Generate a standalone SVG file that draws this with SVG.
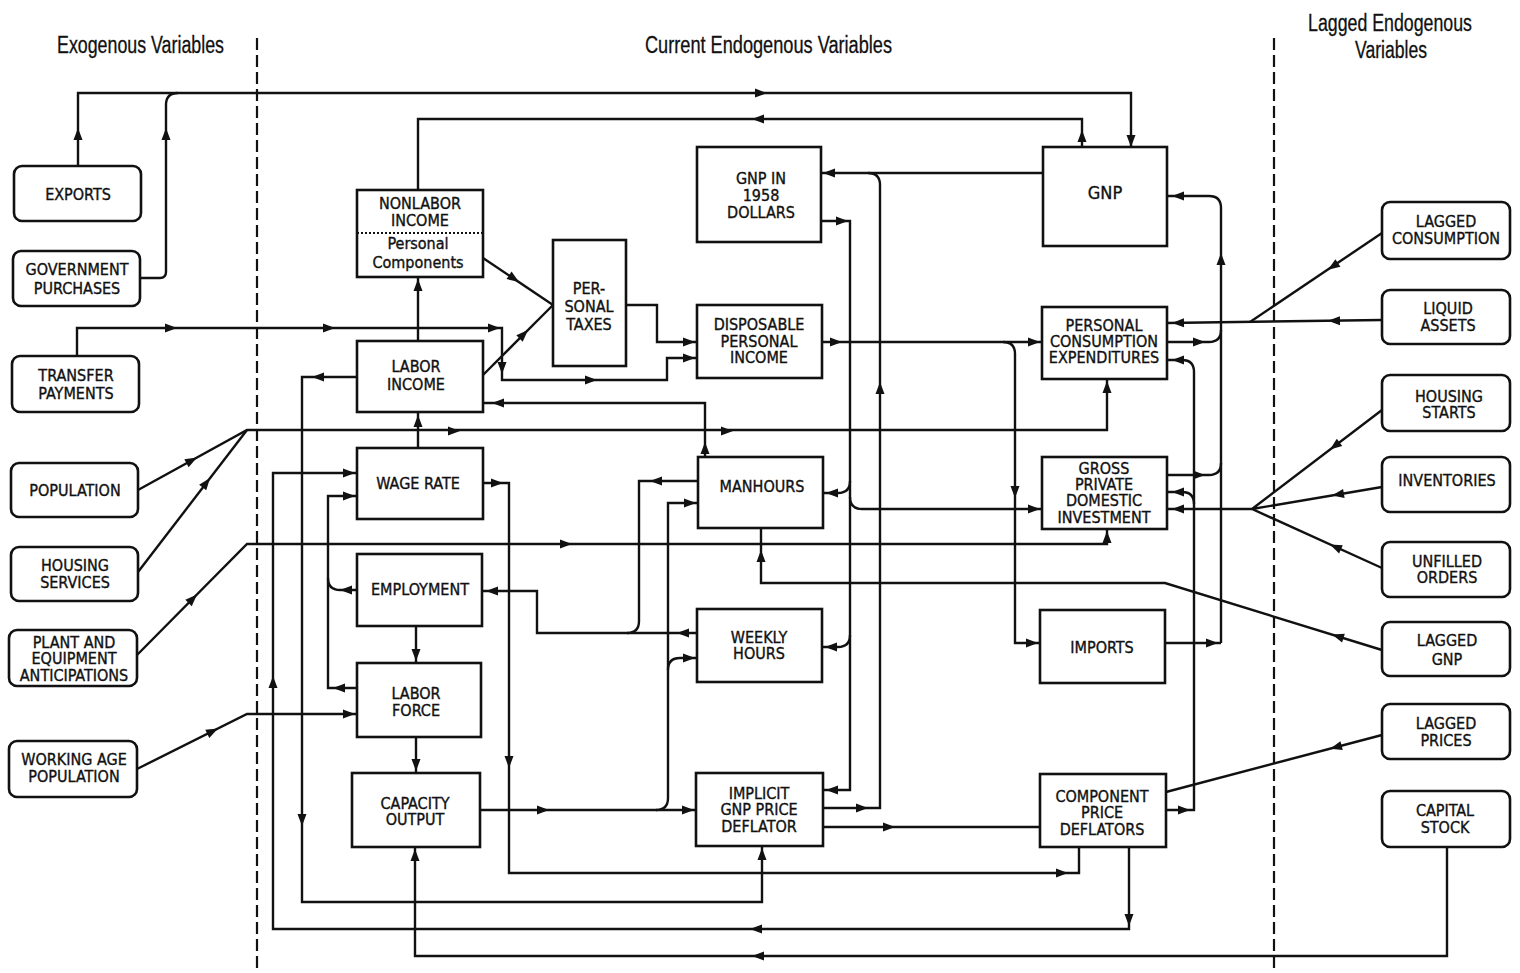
<svg xmlns="http://www.w3.org/2000/svg" xmlns:xlink="http://www.w3.org/1999/xlink" width="1520" height="973" viewBox="0 0 1520 973">
<style>
.bg{fill:#ffffff}
.box{fill:#ffffff;stroke:#111;stroke-width:2.6}
.rbox{fill:#ffffff;stroke:#111;stroke-width:2.6}
.c{fill:none;stroke:#111;stroke-width:2.4}
.div{fill:none;stroke:#111;stroke-width:2.2;stroke-dasharray:12 5}
.t{font-family:"Liberation Sans Narrow","Arial Narrow","DejaVu Sans Condensed","Liberation Sans",sans-serif;font-size:16px;fill:#111;stroke:#111;stroke-width:0.35;text-anchor:middle}
.h{font-family:"Liberation Sans Narrow","Arial Narrow","Liberation Sans",sans-serif;font-size:23px;fill:#111;stroke:#111;stroke-width:0.3}
.ah{fill:#111}
</style>
<defs>
<path id="ah" d="M0,0 L-12,-4.5 L-12,4.5 Z"/>
</defs>
<rect class="bg" x="0" y="0" width="1520" height="973"/>

<g id="headers">
<text class="h" x="57" y="53" textLength="167" lengthAdjust="spacingAndGlyphs">Exogenous Variables</text>
<text class="h" x="645" y="53" textLength="247" lengthAdjust="spacingAndGlyphs">Current Endogenous Variables</text>
<text class="h" x="1308" y="31" textLength="164" lengthAdjust="spacingAndGlyphs">Lagged Endogenous</text>
<text class="h" x="1355" y="58" textLength="72" lengthAdjust="spacingAndGlyphs">Variables</text>
</g>

<g id="dividers">
<path class="div" d="M257,38 V973"/>
<path class="div" d="M1274,38 V973"/>
</g>

<g id="connectors">
<path class="c" d="M78,166 V93 H1131 V147"/>
<path class="c" d="M141,278 H160 Q166,278 166,272 V105 Q166,93 178,93"/>
<path class="c" d="M1082,147 V119 H418 V190"/>
<path class="c" d="M1043,173 H821"/>
<path class="c" d="M823,808 H880 V185 Q880,173 868,173"/>
<path class="c" d="M821,221 H850 V790 H823"/>
<path class="c" d="M850,481 Q850,493 838,493 H823"/>
<path class="c" d="M850,497 Q850,509 862,509 H1042"/>
<path class="c" d="M850,635 Q850,647 838,647 H822"/>
<path class="c" d="M822,342 H1042"/>
<path class="c" d="M1003,342 Q1015,342 1015,354 V643 H1040"/>
<path class="c" d="M138,490 L247,430 H1107 V379"/>
<path class="c" d="M138,572 L247,430"/>
<path class="c" d="M137,655 L247,544 H1107 V529"/>
<path class="c" d="M137,769 L247,714 H357"/>
<path class="c" d="M77,356 V328 H502 V380 H667 V358 H697"/>
<path class="c" d="M626,305 H657 V342 H697"/>
<path class="c" d="M483,258 L553,305"/>
<path class="c" d="M483,375 L553,305"/>
<path class="c" d="M418,341 V277"/>
<path class="c" d="M357,377 H302 V902 H762 V846"/>
<path class="c" d="M1129,847 V929 H273 V473 H357"/>
<path class="c" d="M1447,847 V956 H415 V847"/>
<path class="c" d="M483,483 H509 V873 H1079 V847"/>
<path class="c" d="M705,457 V403 H483"/>
<path class="c" d="M697,633 H537 V591 H482"/>
<path class="c" d="M698,481 H639 V621 Q639,633 627,633"/>
<path class="c" d="M480,810 H696"/>
<path class="c" d="M656,810 Q668,810 668,798 V503 H698"/>
<path class="c" d="M668,670 Q668,658 680,658 H697"/>
<path class="c" d="M357,590 H340 Q328,590 328,578"/>
<path class="c" d="M357,688 H328 V496 H357"/>
<path class="c" d="M418,448 V413"/>
<path class="c" d="M416,626 V663"/>
<path class="c" d="M416,737 V773"/>
<path class="c" d="M823,827 H1040"/>
<path class="c" d="M1166,810 H1194 V372 Q1194,360 1182,360 H1167"/>
<path class="c" d="M1194,504 Q1194,492 1182,492 H1167"/>
<path class="c" d="M1221,643 V208 Q1221,196 1209,196 H1167"/>
<path class="c" d="M1167,342 H1209 Q1221,342 1221,330"/>
<path class="c" d="M1167,475 H1209 Q1221,475 1221,463"/>
<path class="c" d="M1165,643 H1221"/>
<path class="c" d="M1382,320 L1167,323"/>
<path class="c" d="M1382,233 L1250,322"/>
<path class="c" d="M1382,410 L1252,509 M1382,487 L1252,509 M1382,568 L1252,509 M1252,509 H1167"/>
<path class="c" d="M1382,650 L1165,583 H761 V528"/>
<path class="c" d="M1382,735 L1166,792"/>
<g class="ah">
<use xlink:href="#ah" transform="translate(78,128) rotate(-90)"/>
<use xlink:href="#ah" transform="translate(166,128) rotate(-90)"/>
<use xlink:href="#ah" transform="translate(767,93)"/>
<use xlink:href="#ah" transform="translate(1131,147) rotate(90)"/>
<use xlink:href="#ah" transform="translate(1082,130) rotate(-90)"/>
<use xlink:href="#ah" transform="translate(752,119) rotate(180)"/>
<use xlink:href="#ah" transform="translate(823,173) rotate(180)"/>
<use xlink:href="#ah" transform="translate(868,808)"/>
<use xlink:href="#ah" transform="translate(880,382) rotate(-90)"/>
<use xlink:href="#ah" transform="translate(848,221)"/>
<use xlink:href="#ah" transform="translate(826,493) rotate(180)"/>
<use xlink:href="#ah" transform="translate(1040,509)"/>
<use xlink:href="#ah" transform="translate(825,647) rotate(180)"/>
<use xlink:href="#ah" transform="translate(826,790) rotate(180)"/>
<use xlink:href="#ah" transform="translate(842,342)"/>
<use xlink:href="#ah" transform="translate(1040,342)"/>
<use xlink:href="#ah" transform="translate(1015,498) rotate(90)"/>
<use xlink:href="#ah" transform="translate(1038,643)"/>
<use xlink:href="#ah" transform="translate(197,457.5) rotate(-28.8)"/>
<use xlink:href="#ah" transform="translate(210,478) rotate(-52.5)"/>
<use xlink:href="#ah" transform="translate(460,431)"/>
<use xlink:href="#ah" transform="translate(733,431)"/>
<use xlink:href="#ah" transform="translate(1107,381) rotate(-90)"/>
<use xlink:href="#ah" transform="translate(197,594.5) rotate(-45.3)"/>
<use xlink:href="#ah" transform="translate(572,544)"/>
<use xlink:href="#ah" transform="translate(1107,531) rotate(-90)"/>
<use xlink:href="#ah" transform="translate(218,728.5) rotate(-26.6)"/>
<use xlink:href="#ah" transform="translate(355,714)"/>
<use xlink:href="#ah" transform="translate(177,328)"/>
<use xlink:href="#ah" transform="translate(335,328)"/>
<use xlink:href="#ah" transform="translate(500,328)"/>
<use xlink:href="#ah" transform="translate(502,374) rotate(90)"/>
<use xlink:href="#ah" transform="translate(597,380)"/>
<use xlink:href="#ah" transform="translate(695,358)"/>
<use xlink:href="#ah" transform="translate(695,342)"/>
<use xlink:href="#ah" transform="translate(519,282) rotate(33.9)"/>
<use xlink:href="#ah" transform="translate(528,330) rotate(-45)"/>
<use xlink:href="#ah" transform="translate(418,279) rotate(-90)"/>
<use xlink:href="#ah" transform="translate(312,377) rotate(180)"/>
<use xlink:href="#ah" transform="translate(302,826) rotate(90)"/>
<use xlink:href="#ah" transform="translate(762,848) rotate(-90)"/>
<use xlink:href="#ah" transform="translate(1129,926) rotate(90)"/>
<use xlink:href="#ah" transform="translate(750,929) rotate(180)"/>
<use xlink:href="#ah" transform="translate(273,676) rotate(-90)"/>
<use xlink:href="#ah" transform="translate(355,473)"/>
<use xlink:href="#ah" transform="translate(752,956) rotate(180)"/>
<use xlink:href="#ah" transform="translate(415,849) rotate(-90)"/>
<use xlink:href="#ah" transform="translate(503,483)"/>
<use xlink:href="#ah" transform="translate(509,768) rotate(90)"/>
<use xlink:href="#ah" transform="translate(1068,873)"/>
<use xlink:href="#ah" transform="translate(705,442) rotate(-90)"/>
<use xlink:href="#ah" transform="translate(492,403) rotate(180)"/>
<use xlink:href="#ah" transform="translate(677,633) rotate(180)"/>
<use xlink:href="#ah" transform="translate(486,591) rotate(180)"/>
<use xlink:href="#ah" transform="translate(650,481) rotate(180)"/>
<use xlink:href="#ah" transform="translate(549,810)"/>
<use xlink:href="#ah" transform="translate(694,810)"/>
<use xlink:href="#ah" transform="translate(695,658)"/>
<use xlink:href="#ah" transform="translate(696,503)"/>
<use xlink:href="#ah" transform="translate(340,590) rotate(180)"/>
<use xlink:href="#ah" transform="translate(333,688) rotate(180)"/>
<use xlink:href="#ah" transform="translate(355,496)"/>
<use xlink:href="#ah" transform="translate(418,415) rotate(-90)"/>
<use xlink:href="#ah" transform="translate(416,661) rotate(90)"/>
<use xlink:href="#ah" transform="translate(416,771) rotate(90)"/>
<use xlink:href="#ah" transform="translate(895,827)"/>
<use xlink:href="#ah" transform="translate(1190,810)"/>
<use xlink:href="#ah" transform="translate(1172,360) rotate(180)"/>
<use xlink:href="#ah" transform="translate(1172,492) rotate(180)"/>
<use xlink:href="#ah" transform="translate(1221,253) rotate(-90)"/>
<use xlink:href="#ah" transform="translate(1172,196) rotate(180)"/>
<use xlink:href="#ah" transform="translate(1205,342)"/>
<use xlink:href="#ah" transform="translate(1205,475)"/>
<use xlink:href="#ah" transform="translate(1218,643)"/>
<use xlink:href="#ah" transform="translate(1328,320.8) rotate(179.2)"/>
<use xlink:href="#ah" transform="translate(1172,323) rotate(179.2)"/>
<use xlink:href="#ah" transform="translate(1328,269.8) rotate(145.7)"/>
<use xlink:href="#ah" transform="translate(1330,449.6) rotate(142.7)"/>
<use xlink:href="#ah" transform="translate(1332,495.5) rotate(170.4)"/>
<use xlink:href="#ah" transform="translate(1330,544.4) rotate(-155.6)"/>
<use xlink:href="#ah" transform="translate(1172,509) rotate(180)"/>
<use xlink:href="#ah" transform="translate(1332,634.6) rotate(-162.8)"/>
<use xlink:href="#ah" transform="translate(761,550) rotate(-90)"/>
<use xlink:href="#ah" transform="translate(1330,748.7) rotate(165.2)"/>
</g>
</g>

<g id="exports"><rect class="rbox" x="14" y="166" width="127" height="55" rx="8"/><text class="t" x="78" y="200">EXPORTS</text></g>
<g id="government-purchases"><rect class="rbox" x="13" y="251" width="127" height="55" rx="8"/><text class="t" x="77" y="275">GOVERNMENT</text><text class="t" x="77" y="294">PURCHASES</text></g>
<g id="transfer-payments"><rect class="rbox" x="12" y="356" width="127" height="56" rx="8"/><text class="t" x="76" y="381">TRANSFER</text><text class="t" x="76" y="399">PAYMENTS</text></g>
<g id="population"><rect class="rbox" x="11" y="463" width="127" height="54" rx="8"/><text class="t" x="75" y="496">POPULATION</text></g>
<g id="housing-services"><rect class="rbox" x="11" y="547" width="127" height="54" rx="8"/><text class="t" x="75" y="571">HOUSING</text><text class="t" x="75" y="588">SERVICES</text></g>
<g id="plant-equipment"><rect class="rbox" x="9" y="630" width="128" height="56" rx="8"/><text class="t" x="74" y="648">PLANT AND</text><text class="t" x="74" y="664">EQUIPMENT</text><text class="t" x="74" y="681">ANTICIPATIONS</text></g>
<g id="working-age-population"><rect class="rbox" x="9" y="741" width="128" height="56" rx="8"/><text class="t" x="74" y="765">WORKING AGE</text><text class="t" x="74" y="782">POPULATION</text></g>

<g id="lagged-consumption"><rect class="rbox" x="1382" y="202" width="128" height="57" rx="8"/><text class="t" x="1446" y="227">LAGGED</text><text class="t" x="1446" y="244">CONSUMPTION</text></g>
<g id="liquid-assets"><rect class="rbox" x="1382" y="290" width="128" height="54" rx="8"/><text class="t" x="1448" y="314">LIQUID</text><text class="t" x="1448" y="331">ASSETS</text></g>
<g id="housing-starts"><rect class="rbox" x="1382" y="375" width="128" height="56" rx="8"/><text class="t" x="1449" y="402">HOUSING</text><text class="t" x="1449" y="418">STARTS</text></g>
<g id="inventories"><rect class="rbox" x="1382" y="457" width="128" height="55" rx="8"/><text class="t" x="1447" y="486">INVENTORIES</text></g>
<g id="unfilled-orders"><rect class="rbox" x="1382" y="542" width="128" height="55" rx="8"/><text class="t" x="1447" y="567">UNFILLED</text><text class="t" x="1447" y="583">ORDERS</text></g>
<g id="lagged-gnp"><rect class="rbox" x="1382" y="622" width="128" height="54" rx="8"/><text class="t" x="1447" y="646">LAGGED</text><text class="t" x="1447" y="665">GNP</text></g>
<g id="lagged-prices"><rect class="rbox" x="1382" y="704" width="128" height="55" rx="8"/><text class="t" x="1446" y="729">LAGGED</text><text class="t" x="1446" y="746">PRICES</text></g>
<g id="capital-stock"><rect class="rbox" x="1382" y="791" width="128" height="56" rx="8"/><text class="t" x="1445" y="816">CAPITAL</text><text class="t" x="1445" y="833">STOCK</text></g>

<g id="nonlabor-income"><rect class="box" x="357" y="190" width="126" height="87"/><path d="M357,233 H483" fill="none" stroke="#111" stroke-width="2.2" stroke-dasharray="2 2"/><text class="t" x="420" y="209">NONLABOR</text><text class="t" x="420" y="226">INCOME</text><text class="t" x="418" y="249">Personal</text><text class="t" x="418" y="268">Components</text></g>
<g id="personal-taxes"><rect class="box" x="553" y="240" width="73" height="126"/><text class="t" x="589" y="294">PER-</text><text class="t" x="589" y="312">SONAL</text><text class="t" x="589" y="330">TAXES</text></g>
<g id="labor-income"><rect class="box" x="357" y="341" width="126" height="71"/><text class="t" x="416" y="372">LABOR</text><text class="t" x="416" y="390">INCOME</text></g>
<g id="wage-rate"><rect class="box" x="357" y="448" width="126" height="71"/><text class="t" x="418" y="489">WAGE  RATE</text></g>
<g id="employment"><rect class="box" x="357" y="554" width="125" height="72"/><text class="t" x="420" y="595">EMPLOYMENT</text></g>
<g id="labor-force"><rect class="box" x="357" y="663" width="124" height="74"/><text class="t" x="416" y="699">LABOR</text><text class="t" x="416" y="716">FORCE</text></g>
<g id="capacity-output"><rect class="box" x="352" y="773" width="128" height="74"/><text class="t" x="415" y="809">CAPACITY</text><text class="t" x="415" y="825">OUTPUT</text></g>
<g id="gnp-1958"><rect class="box" x="697" y="147" width="124" height="95"/><text class="t" x="761" y="184">GNP  IN</text><text class="t" x="761" y="201">1958</text><text class="t" x="761" y="218">DOLLARS</text></g>
<g id="disposable-personal-income"><rect class="box" x="697" y="305" width="125" height="73"/><text class="t" x="759" y="330">DISPOSABLE</text><text class="t" x="759" y="347">PERSONAL</text><text class="t" x="759" y="363">INCOME</text></g>
<g id="manhours"><rect class="box" x="698" y="457" width="125" height="71"/><text class="t" x="762" y="492">MANHOURS</text></g>
<g id="weekly-hours"><rect class="box" x="697" y="609" width="125" height="73"/><text class="t" x="759" y="643">WEEKLY</text><text class="t" x="759" y="659">HOURS</text></g>
<g id="implicit-deflator"><rect class="box" x="696" y="773" width="127" height="73"/><text class="t" x="759" y="799">IMPLICIT</text><text class="t" x="759" y="815">GNP  PRICE</text><text class="t" x="759" y="832">DEFLATOR</text></g>
<g id="gnp"><rect class="box" x="1043" y="147" width="124" height="99"/><text class="t" x="1105" y="199" style="font-size:18px">GNP</text></g>
<g id="personal-consumption"><rect class="box" x="1042" y="307" width="125" height="72"/><text class="t" x="1104" y="331">PERSONAL</text><text class="t" x="1104" y="347">CONSUMPTION</text><text class="t" x="1104" y="363">EXPENDITURES</text></g>
<g id="gross-investment"><rect class="box" x="1042" y="457" width="125" height="72"/><text class="t" x="1104" y="474">GROSS</text><text class="t" x="1104" y="490">PRIVATE</text><text class="t" x="1104" y="506">DOMESTIC</text><text class="t" x="1104" y="523">INVESTMENT</text></g>
<g id="imports"><rect class="box" x="1040" y="610" width="125" height="73"/><text class="t" x="1102" y="653">IMPORTS</text></g>
<g id="component-price-deflators"><rect class="box" x="1040" y="774" width="126" height="73"/><text class="t" x="1102" y="802">COMPONENT</text><text class="t" x="1102" y="818">PRICE</text><text class="t" x="1102" y="835">DEFLATORS</text></g>
</svg>
